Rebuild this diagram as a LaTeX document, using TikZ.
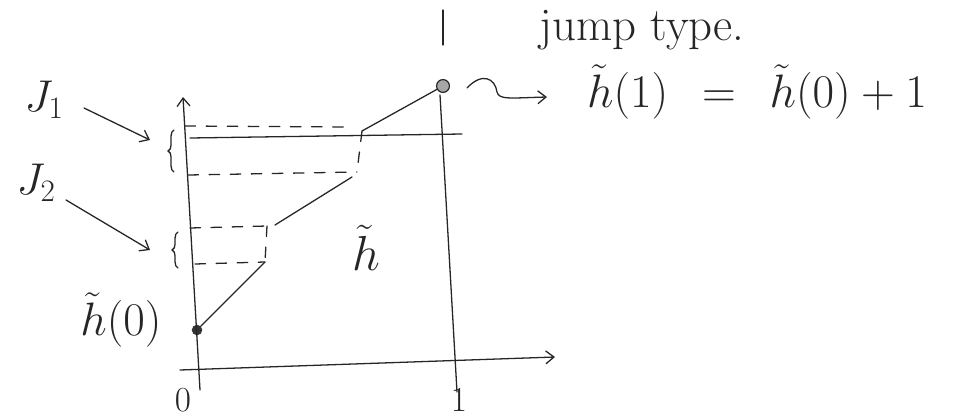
\RequirePackage{fix-cm}
\documentclass[tikz,border=0pt]{standalone}
\usetikzlibrary{decorations.pathreplacing,arrows.meta}
\begin{document}
\begin{tikzpicture}[x=0.03cm,y=-0.03cm,
  pen/.style={line width=1.1pt,draw=black!85,line cap=round},
  dsh/.style={pen,dash pattern=on 9pt off 9pt},
  lbl/.style={inner sep=0pt,text=black!85},
  brc/.style={pen,decorate,decoration={brace,amplitude=5pt}},
  tip/.style={-{Straight Barb[length=7pt,width=11pt]}}]
\useasboundingbox (0,0) rectangle (957,418);
% coordinates
\coordinate (yb) at (200,390);
\coordinate (yt) at (183,97);
\coordinate (xl) at (180,370);
\coordinate (xr) at (555,357);
\coordinate (vt1) at (443,10);
\coordinate (vt2) at (443,45);
\coordinate (vb1) at (440,95);
\coordinate (vb2) at (457,392);
\coordinate (top1) at (190,138);
\coordinate (top2) at (462,134);
\node[circle,fill=black!80,inner sep=0pt,minimum size=9pt] (d0) at (197,330) {};
\node[circle,draw=black!85,fill=black!35,line width=1pt,inner sep=0pt,minimum size=11pt] (d1) at (443,86) {};
\coordinate (a1) at (362,131);
\coordinate (a2) at (357,172);
\coordinate (b1) at (352,177);
\coordinate (b2) at (275,225);
\coordinate (c1) at (267,226);
\coordinate (c2) at (265,262);
% axes
\draw[pen,tip] (yb) -- (yt);
\draw[pen,tip] (xl) -- (xr);
\draw[pen] (vt1) -- (vt2);
\draw[pen] (vb1) -- (vb2);
% top solid level
\draw[pen] (top1) -- (top2);
% dashed levels
\draw[dsh] (185,126) -- (350,127);
\draw[dsh] (188,175) -- (a2);
\draw[dsh] (a1) -- (a2);
\draw[dsh] (190,228) -- (c1);
\draw[dsh] (c1) -- (c2);
\draw[dsh] (195,264) -- (c2);
% graph
\draw[pen] (d0) -- (c2);
\draw[pen] (b2) -- (b1);
\draw[pen] (a1) -- (d1);
% braces
\draw[brc] (174,172) -- (174,130);
\draw[brc] (178,268) -- (178,232);
% labels
\node[lbl,font=\fontsize{38}{42}\selectfont] (j1) at (44,100) {$J_{1}$};
\node[lbl,font=\fontsize{38}{42}\selectfont] (j2) at (36,183) {$J_{2}$};
\coordinate (j1t) at (150,140);
\coordinate (j2t) at (150,250);
\draw[pen,tip] (84,108) -- (j1t);
\draw[pen,tip] (66,200) -- (j2t);
\node[lbl,font=\fontsize{40}{44}\selectfont] (h0) at (121,320) {$\tilde h(0)$};
\node[lbl,font=\fontsize{42}{46}\selectfont] (ht) at (366,248) {$\tilde h$};
\node[lbl,anchor=base,font=\fontsize{30}{34}\selectfont] (o) at (183,411) {$0$};
\node[lbl,anchor=base,font=\fontsize{30}{34}\selectfont] (one) at (459,411) {$1$};
\node[lbl,anchor=base,font=\fontsize{40}{44}\selectfont] (jt) at (642,40) {jump type.};
\node[lbl,font=\fontsize{40}{44}\selectfont] (eq) at (757,92) {$\tilde h(1)\;\,=\;\,\tilde h(0)+1$};
% wavy arrow
\coordinate (w0) at (467,88);
\coordinate (w1) at (547,97);
\draw[pen,tip] (w0) .. controls (482,72) and (495,78) .. (497,92) .. controls (499,100) and (510,98) .. (w1);
\end{tikzpicture}
\end{document}
